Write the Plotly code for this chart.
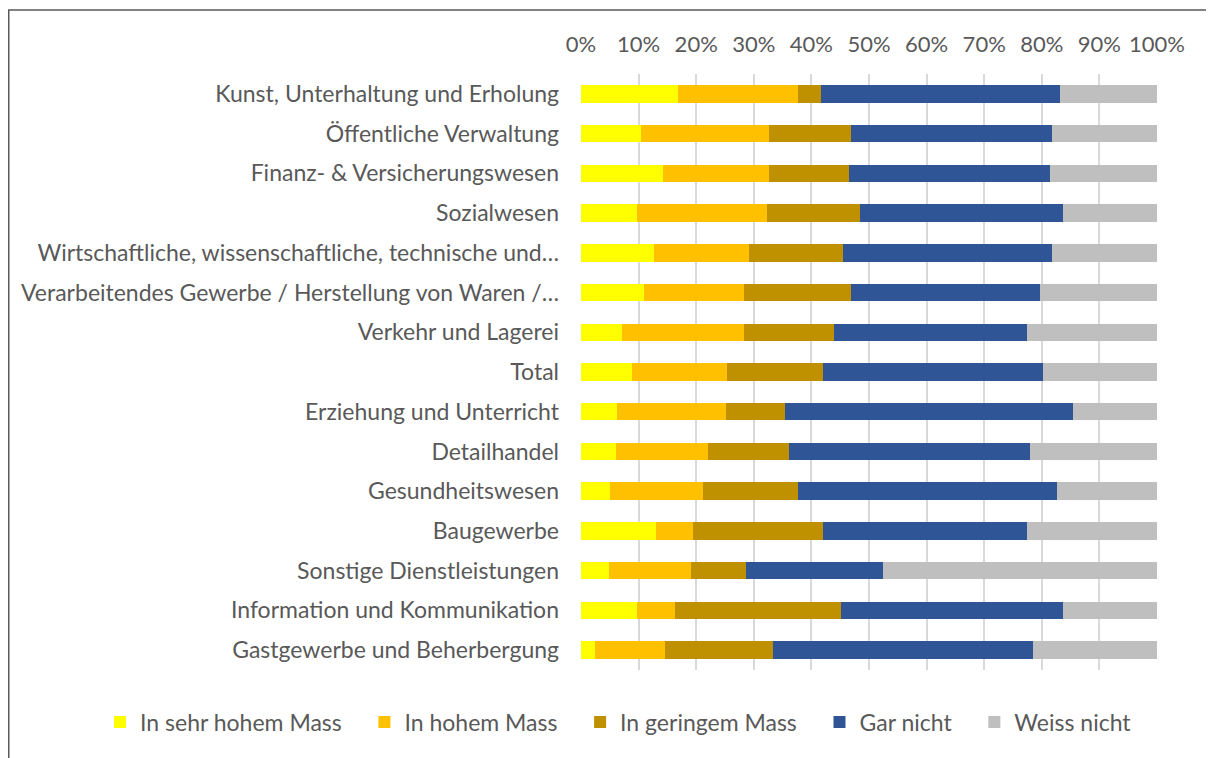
import plotly.graph_objects as go

categories = [
    "Kunst, Unterhaltung und Erholung",
    "Öffentliche Verwaltung",
    "Finanz- & Versicherungswesen",
    "Sozialwesen",
    "Wirtschaftliche, wissenschaftliche, technische und…",
    "Verarbeitendes Gewerbe / Herstellung von Waren /…",
    "Verkehr und Lagerei",
    "Total",
    "Erziehung und Unterricht",
    "Detailhandel",
    "Gesundheitswesen",
    "Baugewerbe",
    "Sonstige Dienstleistungen",
    "Information und Kommunikation",
    "Gastgewerbe und Beherbergung",
]

sehr_hoch = [16.8, 10.4, 14.2, 9.8, 12.7, 11.0, 7.2, 8.9, 6.2, 6.0, 5.1, 13.0, 4.8, 9.8, 2.5]
hoch = [20.8, 22.2, 18.4, 22.5, 16.5, 17.3, 21.1, 16.4, 18.9, 16.1, 16.1, 6.4, 14.3, 6.5, 12.0]
gering = [4.1, 14.3, 14.0, 16.1, 16.2, 18.6, 15.7, 16.7, 10.4, 14.0, 16.5, 22.6, 9.5, 28.9, 18.9]
gar_nicht = [41.4, 34.8, 34.8, 35.3, 36.3, 32.8, 33.4, 38.2, 50.0, 41.8, 44.9, 35.4, 23.8, 38.5, 45.0]
weiss_nicht = [16.9, 18.3, 18.6, 16.3, 18.3, 20.3, 22.6, 19.8, 14.5, 22.1, 17.4, 22.6, 47.6, 16.3, 21.6]

series_names = ["In sehr hohem Mass", "In hohem Mass", "In geringem Mass", "Gar nicht", "Weiss nicht"]
series_values = [sehr_hoch, hoch, gering, gar_nicht, weiss_nicht]
series_colors = ["#FFFF00", "#FFC000", "#BF9000", "#2F5597", "#BFBFBF"]

tick_vals = [0, 10, 20, 30, 40, 50, 60, 70, 80, 90, 100]
tick_text = [f"{v}%" for v in tick_vals]

FONT = "Lato"
TXT = "#595959"
PAD = "\u00a0\u00a0\u00a0"  # extra spacing between legend entries

fig = go.Figure()
for i, (name, vals, color) in enumerate(zip(series_names, series_values, series_colors)):
    label = name + (PAD if i < len(series_names) - 1 else "")
    fig.add_trace(go.Bar(
        y=categories, x=vals, name=label, orientation="h",
        marker=dict(color=color, line=dict(width=0)),
        hovertemplate=name + ": %{x}%<extra></extra>",
    ))

fig.update_layout(
    barmode="stack",
    bargap=0.56,
    width=1214, height=758,
    margin=dict(l=573, r=65, t=66, b=96, autoexpand=False),
    paper_bgcolor="white", plot_bgcolor="white",
    font=dict(family=FONT, size=23, color=TXT),
    legend=dict(
        orientation="h", x=-0.835, xanchor="left", y=-0.0872, yanchor="middle",
        font=dict(family=FONT, size=23, color=TXT),
        itemwidth=30, traceorder="normal",
    ),
    xaxis=dict(
        side="top", range=[0, 100], tickvals=tick_vals, ticktext=tick_text,
        showgrid=True, gridcolor="#D9D9D9", gridwidth=1.5,
        zeroline=False, showline=False,
        tickfont=dict(family=FONT, size=22, color=TXT),
        ticks="", ticklabelstandoff=17,
    ),
    yaxis=dict(
        type="category", categoryorder="array", categoryarray=categories,
        range=[14.5, -0.5],
        tickfont=dict(family=FONT, size=23, color=TXT),
        ticks="", ticklabelstandoff=21, showgrid=False, zeroline=False,
    ),
    shapes=[
        dict(type="rect", xref="paper", yref="paper",
             x0=-0.9935, x1=1.2, y0=-0.3, y1=1.1075,
             line=dict(color="#595959", width=1.5), fillcolor="rgba(0,0,0,0)", layer="above"),
    ],
)

fig.write_html("out.html")
